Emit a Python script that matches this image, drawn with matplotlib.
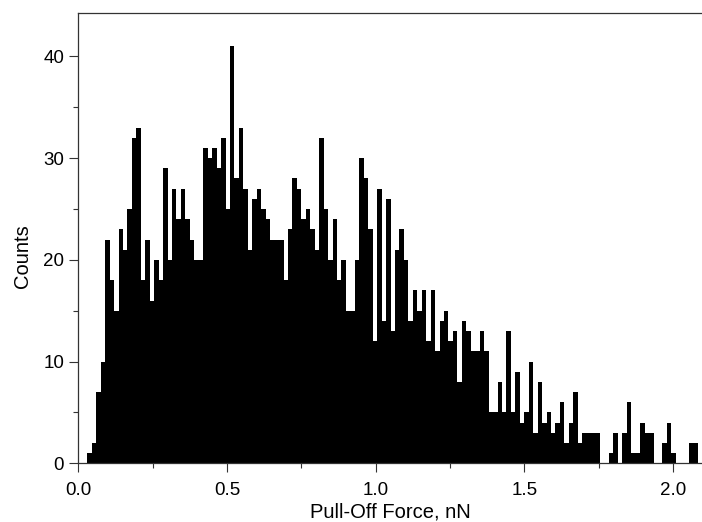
import numpy as np
import matplotlib.pyplot as plt
from matplotlib.ticker import MultipleLocator, FormatStrFormatter

plt.rcParams['font.family'] = ['Liberation Sans', 'DejaVu Sans']

# histogram of pull-off forces, bins of 0.015 nN starting at 0
bin_width = 0.015
counts = [0, 0, 1, 2, 7, 10, 22, 18, 15, 23,
          21, 25, 32, 33, 18, 22, 16, 20, 18, 29,
          20, 27, 24, 27, 24, 22, 20, 20, 31, 30,
          31, 29, 32, 25, 41, 28, 33, 27, 21, 26,
          27, 25, 24, 22, 22, 22, 18, 23, 28, 27,
          24, 25, 23, 21, 32, 25, 20, 24, 18, 20,
          15, 15, 20, 30, 28, 23, 12, 27, 14, 26,
          13, 21, 23, 20, 14, 17, 15, 17, 12, 17,
          11, 14, 15, 12, 13, 8, 14, 13, 11, 11,
          13, 11, 5, 5, 8, 5, 13, 5, 9, 4,
          5, 10, 3, 8, 4, 5, 3, 4, 6, 2,
          4, 7, 2, 3, 3, 3, 3, 0, 0, 1,
          3, 0, 3, 6, 1, 1, 4, 3, 3, 0,
          0, 2, 4, 1, 0, 0, 0, 2, 2, 0]
edges = np.arange(len(counts)) * bin_width

fig = plt.figure(figsize=(7.02, 5.22), dpi=100)
ax = fig.add_axes([0.1117, 0.1125, 0.8883, 0.8632])

ax.bar(edges, counts, width=bin_width, align='edge', color='black',
       linewidth=0)

ax.set_xlim(0, 2.098)
ax.set_ylim(0, 44.3)

ax.xaxis.set_major_locator(MultipleLocator(0.5))
ax.xaxis.set_minor_locator(MultipleLocator(0.25))
ax.xaxis.set_major_formatter(FormatStrFormatter('%.1f'))
ax.yaxis.set_major_locator(MultipleLocator(10))
ax.yaxis.set_minor_locator(MultipleLocator(5))

ax.tick_params(which='major', direction='out', length=6.7, width=0.8,
               labelsize=13.5, color='#333333')
ax.tick_params(which='minor', direction='out', length=3.6, width=0.8,
               color='#333333')
ax.tick_params(axis='x', which='major', pad=6.5)
ax.tick_params(axis='y', which='major', pad=3.5)
ax.tick_params(top=False, right=False)

ax.spines['right'].set_visible(False)
for s in ['left', 'bottom', 'top']:
    ax.spines[s].set_linewidth(0.9)
    ax.spines[s].set_color('#333333')

ax.set_xlabel('Pull-Off Force, nN', fontsize=14.5, labelpad=3)
ax.set_ylabel('Counts', fontsize=14.5)
ax.yaxis.set_label_coords(-0.074, 0.46)

fig.savefig('out.png', dpi=100)
